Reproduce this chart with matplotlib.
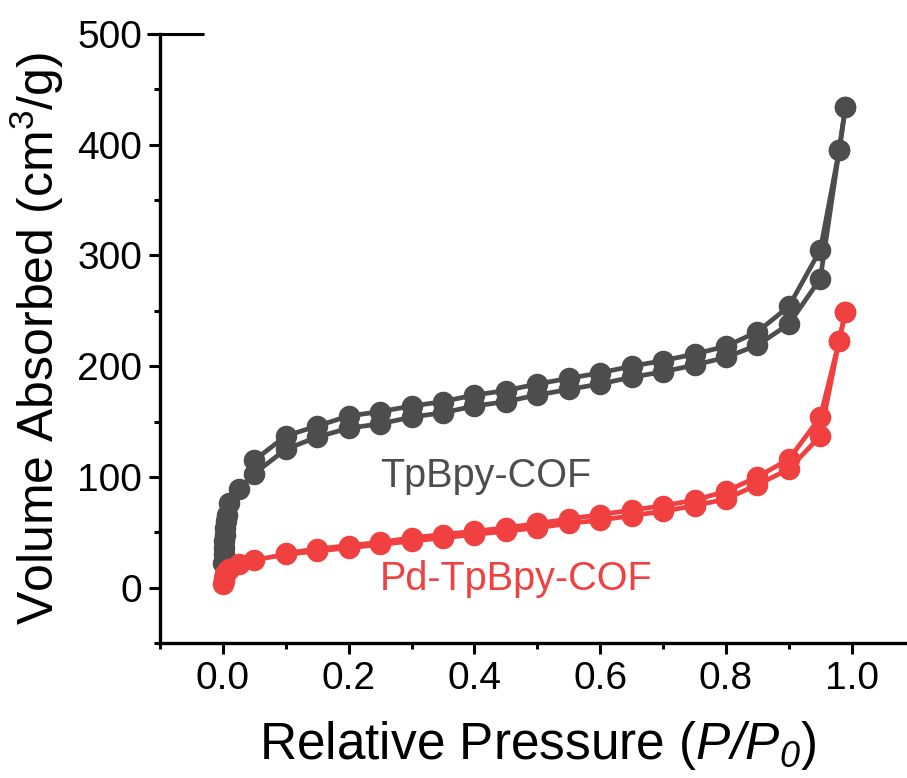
import numpy as np
import matplotlib
matplotlib.use("Agg")
import matplotlib.pyplot as plt
from matplotlib.ticker import MultipleLocator

plt.rcParams["font.family"] = ["Liberation Sans", "DejaVu Sans"]
plt.rcParams["mathtext.fontset"] = "custom"
plt.rcParams["mathtext.rm"] = "Liberation Sans"
plt.rcParams["mathtext.it"] = "Liberation Sans:italic"
plt.rcParams["mathtext.sf"] = "Liberation Sans:italic"

GRAY = "#4d4d4d"
RED = "#f04040"

# TpBpy-COF
cof_ads_p = [0.0005, 0.001, 0.0015, 0.002, 0.003, 0.004, 0.005, 0.007, 0.01,
             0.025, 0.05, 0.10, 0.15, 0.20, 0.25, 0.30, 0.35, 0.40, 0.45, 0.50,
             0.55, 0.60, 0.65, 0.70, 0.75, 0.80, 0.85, 0.90, 0.95, 0.98, 0.99]
cof_ads_v = [22, 30, 36, 42, 48, 54, 60, 66, 76,
             89, 103, 125, 136, 144, 148, 154, 158, 164, 168, 174,
             179, 184, 190, 195, 201, 208, 219, 238, 279, 395, 434]
cof_des_p = [0.99, 0.98, 0.95, 0.90, 0.85, 0.80, 0.75, 0.70, 0.65, 0.60, 0.55,
             0.50, 0.45, 0.40, 0.35, 0.30, 0.25, 0.20, 0.15, 0.10, 0.05]
cof_des_v = [434, 395, 305, 254, 231, 218, 211, 205, 200, 194, 189,
             184, 178, 174, 168, 164, 159, 155, 146, 137, 115]

# Pd-TpBpy-COF
pd_ads_p = [0.0005, 0.001, 0.002, 0.004, 0.007, 0.01, 0.025, 0.05, 0.10, 0.15,
            0.20, 0.25, 0.30, 0.35, 0.40, 0.45, 0.50, 0.55, 0.60, 0.65, 0.70,
            0.75, 0.80, 0.85, 0.90, 0.95, 0.98, 0.99]
pd_ads_v = [3, 6, 9, 12, 15, 17, 21, 25, 30, 33,
            36, 39, 42, 45, 48, 51, 54, 58, 61, 65, 69,
            74, 80, 93, 107, 137, 223, 249]
pd_des_p = [0.99, 0.98, 0.95, 0.90, 0.85, 0.80, 0.75, 0.70, 0.65, 0.60, 0.55,
            0.50, 0.45, 0.40, 0.35, 0.30, 0.25, 0.20, 0.15, 0.10]
pd_des_v = [249, 223, 154, 116, 100, 87, 79, 74, 70, 66, 62,
            58, 54, 51, 48, 45, 41, 38, 35, 31]

fig = plt.figure(figsize=(9.07, 7.78), dpi=100)
ax = fig.add_axes([0.1764, 0.1735, 0.832, 0.7828])

kw = dict(marker="o", ms=14.5, lw=3.4, clip_on=False)
for p, v in ((cof_ads_p, cof_ads_v), (cof_des_p, cof_des_v)):
    ax.plot(p, v, color=GRAY, **kw)
for p, v in ((pd_ads_p, pd_ads_v), (pd_des_p, pd_des_v)):
    ax.plot(p, v, color=RED, **kw)

ax.text(0.25, 101, "TpBpy-COF", color=GRAY, fontsize=28.5, ha="left", va="center")
ax.text(0.25, 8, "Pd-TpBpy-COF", color=RED, fontsize=28.5, ha="left", va="center")

ax.set_xlim(-0.1, 1.1)
ax.set_ylim(-50, 500)
ax.xaxis.set_minor_locator(MultipleLocator(0.1))
ax.yaxis.set_minor_locator(MultipleLocator(50))
ax.set_xticks(np.arange(0, 1.01, 0.2))
ax.set_xticklabels([f"{t:.1f}" for t in np.arange(0, 1.01, 0.2)])
ax.set_yticks(np.arange(0, 501, 100))
ax.tick_params(which="major", length=8, width=2.2, labelsize=28, pad=5)
ax.tick_params(which="minor", length=4.5, width=2.2)

for s in ("top", "right"):
    ax.spines[s].set_visible(False)
for s in ("left", "bottom"):
    ax.spines[s].set_linewidth(2.4)

# short cap at top of y axis
ax.plot([-0.12, -0.03], [500, 500], color="k", lw=2.2, clip_on=False,
        solid_capstyle="butt")

ax.set_xlabel(r"Relative Pressure ($\mathsf{P/P}_{\mathsf{0}}$)", fontsize=37, labelpad=16)
ax.set_ylabel(r"Volume Absorbed (cm$^3$/g)", fontsize=36, labelpad=8)

fig.savefig("out.png", dpi=100)
